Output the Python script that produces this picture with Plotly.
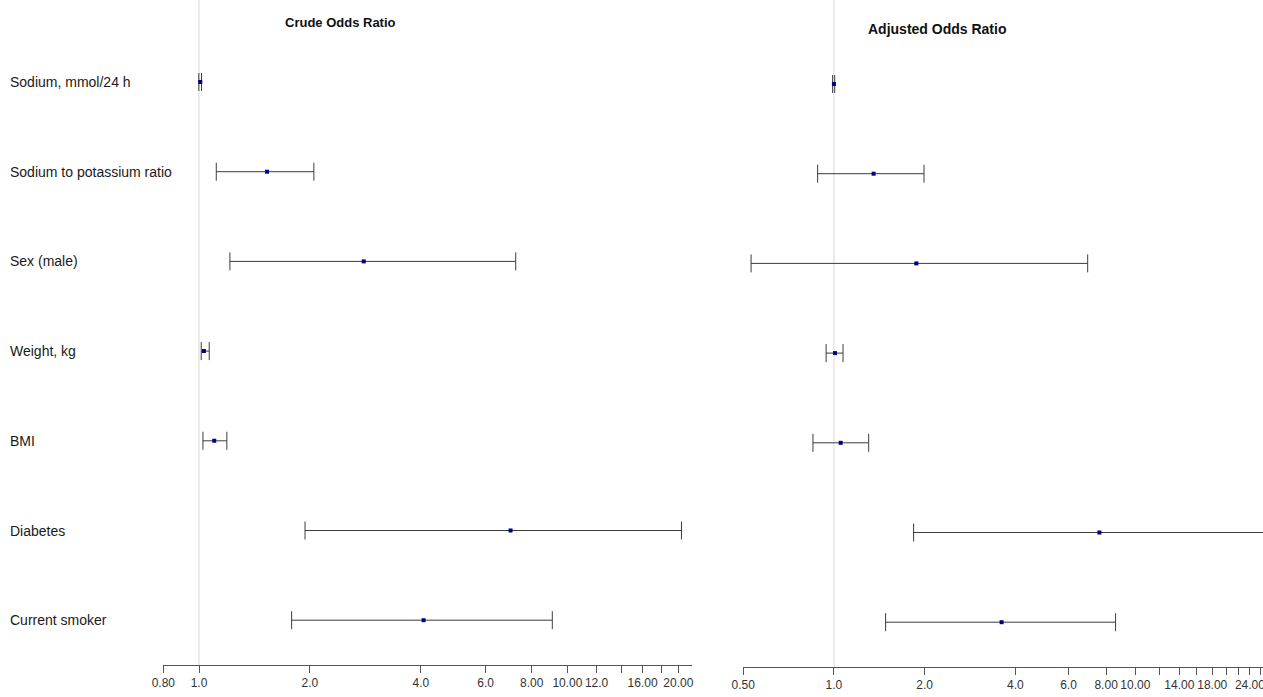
import plotly.graph_objects as go
import math

labels = ["Sodium, mmol/24 h", "Sodium to potassium ratio", "Sex (male)", "Weight, kg",
          "BMI", "Diabetes", "Current smoker"]

crude_or = [1.008, 1.53, 2.80, 1.031, 1.10, 7.01, 4.07]
crude_lo = [0.999, 1.114, 1.213, 1.014, 1.025, 1.94, 1.784]
crude_hi = [1.016, 2.05, 7.24, 1.066, 1.19, 20.4, 9.10]

adj_or = [1.000, 1.354, 1.877, 1.008, 1.053, 7.60, 3.60]
adj_lo = [0.990, 0.883, 0.531, 0.942, 0.852, 1.838, 1.484]
adj_hi = [1.006, 1.99, 6.95, 1.072, 1.304, 32.0, 8.60]

left_tickvals = [0.8, 1, 2, 4, 6, 8, 10, 12, 14, 16, 18, 20, 22]
left_ticktext = ["0.80", "1.0", "2.0", "4.0", "6.0", "8.00", "10.00", "12.0", "", "16.00", "", "20.00", ""]
right_tickvals = [0.5, 1, 2, 4, 6, 8, 10, 12, 14, 16, 18, 20, 22, 24, 26]
right_ticktext = ["0.50", "1.0", "2.0", "4.0", "6.0", "8.00", "10.00", "", "14.00", "", "18.00", "", "", "24.00", ""]

W, H = 1263, 697
n = len(labels)
ypos = [n - i for i in range(n)]

fig = go.Figure()

line_col = "#3c3c3c"
pt_col = "#000080"

fig.add_trace(go.Scatter(
    x=crude_or, y=ypos, mode="markers", xaxis="x", yaxis="y",
    marker=dict(symbol="square", size=4, color=pt_col),
    error_x=dict(type="data", symmetric=False,
                 array=[h - o for h, o in zip(crude_hi, crude_or)],
                 arrayminus=[o - l for o, l in zip(crude_or, crude_lo)],
                 color=line_col, thickness=1, width=9),
    showlegend=False, hoverinfo="skip"))

fig.add_trace(go.Scatter(
    x=adj_or, y=ypos, mode="markers", xaxis="x2", yaxis="y2",
    marker=dict(symbol="square", size=4, color=pt_col),
    error_x=dict(type="data", symmetric=False,
                 array=[h - o for h, o in zip(adj_hi, adj_or)],
                 arrayminus=[o - l for o, l in zip(adj_or, adj_lo)],
                 color=line_col, thickness=1, width=9),
    showlegend=False, hoverinfo="skip"))

# pixel geometry
l_x0, l_x1 = 163.3, 692.3
l_dec = 368.4
r_x0, r_x1 = 743.2, W
r_dec = 301.4
l_axis_y, r_axis_y = 665, 667

l_lo = math.log10(0.8)
l_hi = l_lo + (l_x1 - l_x0) / l_dec
r_lo = math.log10(0.5)
r_hi = r_lo + (r_x1 - r_x0) / r_dec

row_gap = 89.7
def yrange(first_row_px, axis_px):
    lo = n - (axis_px - first_row_px) / row_gap
    hi = n + first_row_px / row_gap
    return [lo, hi]

axis_common = dict(type="log", showgrid=False, zeroline=False, showline=True,
                   linecolor="#555555", linewidth=1, ticks="outside", ticklen=7,
                   tickcolor="#555555", tickangle=0, automargin=False,
                   ticklabeloverflow="allow",
                   tickfont=dict(family="Liberation Sans", size=12, color="#333333"),
                   tickmode="array", mirror=False)

fig.update_layout(
    width=W, height=H, margin=dict(l=0, r=0, t=0, b=0, pad=0, autoexpand=False),
    plot_bgcolor="white", paper_bgcolor="white",
    xaxis=dict(domain=[l_x0 / W, l_x1 / W], range=[l_lo, l_hi], anchor="y",
               tickvals=left_tickvals, ticktext=left_ticktext, **axis_common),
    xaxis2=dict(domain=[r_x0 / W, 1.0], range=[r_lo, r_hi], anchor="y2",
                tickvals=right_tickvals, ticktext=right_ticktext, **axis_common),
    yaxis=dict(domain=[1 - l_axis_y / H, 1], range=yrange(82, l_axis_y), visible=False,
               automargin=False),
    yaxis2=dict(domain=[1 - r_axis_y / H, 1], range=yrange(84, r_axis_y), visible=False,
                anchor="x2", automargin=False),
    shapes=[
        dict(type="line", xref="x", yref="paper", x0=1, x1=1, y0=1 - l_axis_y / H, y1=1,
             line=dict(color="#d9d9d9", width=1), layer="below"),
        dict(type="line", xref="x2", yref="paper", x0=1, x1=1, y0=1 - r_axis_y / H, y1=1,
             line=dict(color="#d9d9d9", width=1), layer="below"),
    ],
)

annotations = []
for lab, yv in zip(labels, ypos):
    annotations.append(dict(text=lab, x=8 / W, xref="paper", y=yv, yref="y",
                            xanchor="left", yanchor="middle", showarrow=False,
                            font=dict(family="Liberation Sans", size=14, color="#1a1a1a")))
annotations.append(dict(text="<b>Crude Odds Ratio</b>", x=341 / W, y=1 - 22 / H,
                        xref="paper", yref="paper", xanchor="center", yanchor="middle",
                        showarrow=False, font=dict(family="Liberation Sans", size=13, color="#111111")))
annotations.append(dict(text="<b>Adjusted Odds Ratio</b>", x=937 / W, y=1 - 29 / H,
                        xref="paper", yref="paper", xanchor="center", yanchor="middle",
                        showarrow=False, font=dict(family="Liberation Sans", size=14, color="#111111")))
fig.update_layout(annotations=annotations)

fig.write_html("out.html", config={"displayModeBar": False},
               post_script="document.body.style.margin='0px';document.body.style.overflow='hidden';")
